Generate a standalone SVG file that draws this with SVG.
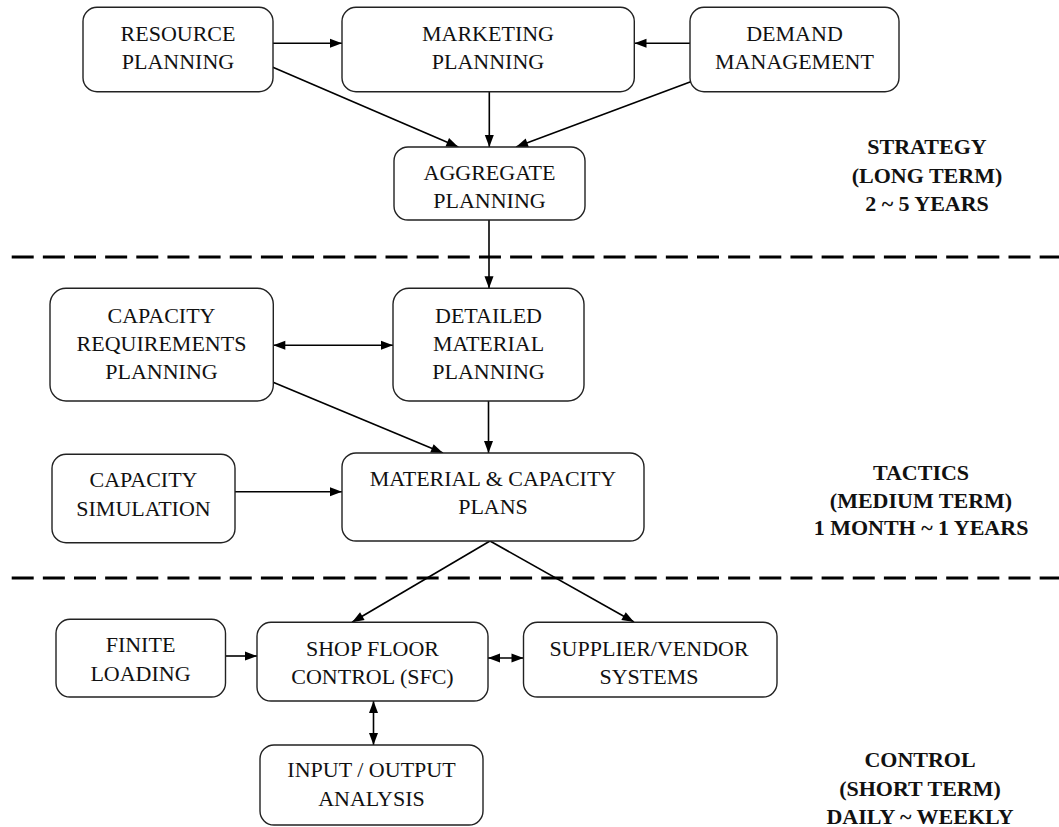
<svg xmlns="http://www.w3.org/2000/svg" width="1059" height="827" viewBox="0 0 1059 827">
<style>
.box{fill:#fff;stroke:#222;stroke-width:1.4}
.t{font-family:"Liberation Serif","Times New Roman",serif;font-size:22px;fill:#111;text-anchor:middle}
.s{font-family:"Liberation Serif","Times New Roman",serif;font-size:22px;font-weight:bold;fill:#111;text-anchor:middle}
.c{stroke:#000;stroke-width:1.6;fill:none}
.dash{stroke:#000;stroke-width:3;stroke-dasharray:22 9.15;fill:none}
</style>
<defs>
<marker id="ah" markerUnits="userSpaceOnUse" markerWidth="14" markerHeight="12" viewBox="0 0 14 12" refX="13" refY="6" orient="auto-start-reverse">
<path d="M1,1.5 L13,6 L1,10.5 Z" fill="#000"/>
</marker>
</defs>
<rect width="1059" height="827" fill="#fff"/>
<g id="dividers">
<line class="dash" x1="11.7" y1="257" x2="1059" y2="257"/>
<line class="dash" x1="11.7" y1="578" x2="1059" y2="578"/>
</g>
<g id="connectors">
<line class="c" x1="273" y1="43.3" x2="342" y2="43.3" marker-end="url(#ah)"/>
<line class="c" x1="690" y1="43.3" x2="634.5" y2="43.3" marker-end="url(#ah)"/>
<line class="c" x1="271.7" y1="66.7" x2="458.3" y2="147" marker-end="url(#ah)"/>
<line class="c" x1="489.3" y1="92" x2="489.3" y2="147" marker-end="url(#ah)"/>
<line class="c" x1="690.7" y1="81.7" x2="516" y2="147" marker-end="url(#ah)"/>
<line class="c" x1="489" y1="220" x2="489" y2="288.3" marker-end="url(#ah)"/>
<line class="c" x1="273.3" y1="345.3" x2="393" y2="345.3" marker-start="url(#ah)" marker-end="url(#ah)"/>
<line class="c" x1="272.5" y1="382" x2="443" y2="453" marker-end="url(#ah)"/>
<line class="c" x1="488.5" y1="401" x2="488.5" y2="453" marker-end="url(#ah)"/>
<line class="c" x1="233" y1="491.7" x2="342" y2="491.7" marker-end="url(#ah)"/>
<line class="c" x1="490" y1="541" x2="352" y2="622.3" marker-end="url(#ah)"/>
<line class="c" x1="490" y1="541" x2="634" y2="622" marker-end="url(#ah)"/>
<line class="c" x1="225.5" y1="656" x2="257" y2="656" marker-end="url(#ah)"/>
<line class="c" x1="488" y1="658" x2="523.5" y2="658" marker-start="url(#ah)" marker-end="url(#ah)"/>
<line class="c" x1="373.5" y1="701" x2="373.5" y2="745" marker-start="url(#ah)" marker-end="url(#ah)"/>
</g>
<g id="resource-planning">
<rect class="box" x="83" y="7.3" width="190" height="84.4" rx="14"/>
<text class="t" x="178" y="40.7">RESOURCE</text>
<text class="t" x="178" y="69">PLANNING</text>
</g>
<g id="marketing-planning">
<rect class="box" x="342" y="7.3" width="292.3" height="84.4" rx="14"/>
<text class="t" x="488" y="40.7">MARKETING</text>
<text class="t" x="488" y="69">PLANNING</text>
</g>
<g id="demand-management">
<rect class="box" x="690" y="7.3" width="209" height="84.4" rx="14"/>
<text class="t" x="794.5" y="40.7">DEMAND</text>
<text class="t" x="794.5" y="69">MANAGEMENT</text>
</g>
<g id="aggregate-planning">
<rect class="box" x="394" y="147" width="191" height="73" rx="14"/>
<text class="t" x="489.5" y="180">AGGREGATE</text>
<text class="t" x="489.5" y="208">PLANNING</text>
</g>
<g id="strategy-label">
<text class="s" x="927" y="154">STRATEGY</text>
<text class="s" x="927" y="183">(LONG TERM)</text>
<text class="s" x="927" y="211">2 ~ 5 YEARS</text>
</g>
<g id="capacity-requirements-planning">
<rect class="box" x="50" y="288.3" width="223.3" height="112.7" rx="16"/>
<text class="t" x="161.5" y="323">CAPACITY</text>
<text class="t" x="161.5" y="351">REQUIREMENTS</text>
<text class="t" x="161.5" y="379">PLANNING</text>
</g>
<g id="detailed-material-planning">
<rect class="box" x="393" y="288.3" width="191" height="112.7" rx="16"/>
<text class="t" x="488.5" y="323">DETAILED</text>
<text class="t" x="488.5" y="351">MATERIAL</text>
<text class="t" x="488.5" y="379">PLANNING</text>
</g>
<g id="capacity-simulation">
<rect class="box" x="52" y="454.3" width="183" height="88.4" rx="14"/>
<text class="t" x="143.5" y="487.3">CAPACITY</text>
<text class="t" x="143.5" y="515.7">SIMULATION</text>
</g>
<g id="material-capacity-plans">
<rect class="box" x="342" y="453" width="302" height="88" rx="14"/>
<text class="t" x="493" y="486">MATERIAL &amp; CAPACITY</text>
<text class="t" x="493" y="514">PLANS</text>
</g>
<g id="tactics-label">
<text class="s" x="921" y="480">TACTICS</text>
<text class="s" x="921" y="508">(MEDIUM TERM)</text>
<text class="s" x="921" y="535">1 MONTH ~ 1 YEARS</text>
</g>
<g id="finite-loading">
<rect class="box" x="56" y="619.3" width="169.5" height="77.7" rx="14"/>
<text class="t" x="140.5" y="652.3">FINITE</text>
<text class="t" x="140.5" y="680.7">LOADING</text>
</g>
<g id="shop-floor-control">
<rect class="box" x="257" y="622.3" width="231" height="78.7" rx="14"/>
<text class="t" x="372.5" y="655.7">SHOP FLOOR</text>
<text class="t" x="372.5" y="684">CONTROL (SFC)</text>
</g>
<g id="supplier-vendor-systems">
<rect class="box" x="523.5" y="622.3" width="253.5" height="74.7" rx="14"/>
<text class="t" x="649" y="655.7">SUPPLIER/VENDOR</text>
<text class="t" x="649" y="684">SYSTEMS</text>
</g>
<g id="input-output-analysis">
<rect class="box" x="260" y="745" width="223" height="80" rx="14"/>
<text class="t" x="371.5" y="777.3">INPUT / OUTPUT</text>
<text class="t" x="371.5" y="805.7">ANALYSIS</text>
</g>
<g id="control-label">
<text class="s" x="920" y="767.3">CONTROL</text>
<text class="s" x="920" y="795.7">(SHORT TERM)</text>
<text class="s" x="920" y="824">DAILY ~ WEEKLY</text>
</g>
</svg>
